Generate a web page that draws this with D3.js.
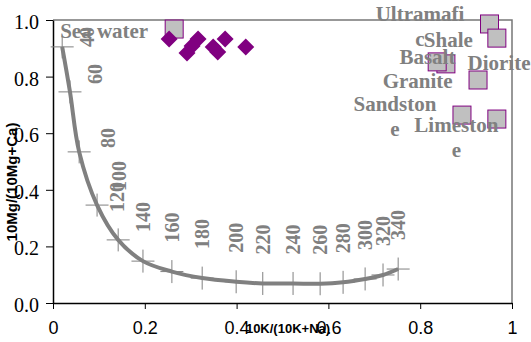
<!DOCTYPE html>
<html>
<head>
<meta charset="utf-8">
<script src="https://cdn.jsdelivr.net/npm/d3@7"></script>
<style>
  body { margin: 0; background: #fff; }
  svg { display: block; }
</style>
</head>
<body>
<div id="chart"></div>
<script>
// geothermometer curve (temperature ticks along the line)
var temps = [40, 60, 80, 100, 120, 140, 160, 180, 200, 220, 240, 260, 280, 300, 320, 340];
var curveX = [0.020, 0.037, 0.057, 0.096, 0.142, 0.196, 0.259, 0.325, 0.399, 0.457, 0.523, 0.582, 0.632, 0.680, 0.719, 0.752];
var curveY = [0.905, 0.746, 0.534, 0.346, 0.223, 0.148, 0.111, 0.088, 0.075, 0.069, 0.069, 0.068, 0.073, 0.085, 0.099, 0.120];

// sea water samples (purple diamonds)
var seaX = [0.253, 0.292, 0.303, 0.316, 0.349, 0.359, 0.375, 0.420];
var seaY = [0.933, 0.883, 0.908, 0.933, 0.905, 0.887, 0.933, 0.905];

// rock types (grey squares)
var rockNames = ["Sea water", "Ultramafic", "Shale", "Basalt", "Granite", "Diorite", "Sandstone", "Limestone"];
var rockLines = [["Sea water"], ["Ultramafi", "c"], ["Shale"], ["Basalt"], ["Granite"], ["Diorite"], ["Sandston", "e"], ["Limeston", "e"]];
var rockX = [0.264, 0.951, 0.967, 0.856, 0.837, 0.926, 0.891, 0.967];
var rockY = [0.968, 0.986, 0.936, 0.845, 0.852, 0.788, 0.664, 0.650];

var xTicks = [0, 0.2, 0.4, 0.6, 0.8, 1];
var yTicks = [0, 0.2, 0.4, 0.6, 0.8, 1.0];

var margin = {top: 20, right: 19, bottom: 39, left: 53},
    width = 531 - margin.left - margin.right,
    height = 342 - margin.top - margin.bottom;

var svg = d3.select("#chart").append("svg")
    .attr("width", 531)
    .attr("height", 342);

var g = svg.append("g")
    .attr("transform", "translate(" + margin.left + "," + margin.top + ")");

var x = d3.scaleLinear().domain([0, 1]).range([0, width]);
var y = d3.scaleLinear().domain([0, 1]).range([height, 0]);

var grey = "#808080";
var serif = "'Liberation Serif', 'Times New Roman', serif";
var sans = "'Liberation Sans', Arial, sans-serif";

// plot area border (top + right)
g.append("path")
    .attr("d", "M0,0H" + width + "V" + height)
    .attr("fill", "none")
    .attr("stroke", "#777")
    .attr("stroke-width", 1.5);

// axes
var xAxis = g.append("g")
    .attr("transform", "translate(0," + height + ")")
    .call(d3.axisBottom(x).tickValues(xTicks).tickSize(6).tickSizeOuter(0)
      .tickFormat(function(d) { return d === 0 || d === 1 ? d : d3.format(".1f")(d); }));
xAxis.select(".domain").attr("stroke", "#000").attr("stroke-width", 1.5);
xAxis.selectAll("text")
    .attr("font-family", sans)
    .attr("font-size", 18)
    .attr("fill", "#000")
    .attr("dy", "1.2em");

var yAxis = g.append("g")
    .call(d3.axisLeft(y).tickValues(yTicks).tickSize(7).tickPadding(7).tickSizeOuter(0).tickFormat(d3.format(".1f")));
yAxis.select(".domain").attr("stroke", "#000").attr("stroke-width", 1.5);
yAxis.selectAll("text")
    .attr("font-family", serif)
    .attr("font-size", 20)
    .attr("fill", "#000")
    .attr("dy", "0.42em");

// axis titles
svg.append("text")
    .attr("x", 288)
    .attr("y", 333)
    .attr("text-anchor", "middle")
    .attr("font-family", sans)
    .attr("font-weight", "bold")
    .attr("font-size", 13)
    .text("10K/(10K+Na)");

svg.append("text")
    .attr("transform", "translate(17,182) rotate(-90)")
    .attr("text-anchor", "middle")
    .attr("font-family", sans)
    .attr("font-weight", "bold")
    .attr("font-size", 15)
    .text("10Mg/(10Mg+Ca)");

// curve
var curvePts = temps.map(function(t, i) { return [curveX[i], curveY[i]]; });

g.append("path")
    .datum(curvePts)
    .attr("fill", "none")
    .attr("stroke", grey)
    .attr("stroke-width", 4)
    .attr("d", d3.line()
      .x(function(d) { return x(d[0]); })
      .y(function(d) { return y(d[1]); })
      .curve(d3.curveCatmullRom));

// cross markers
var cross = g.selectAll(".cross")
    .data(curvePts)
    .enter().append("path")
    .attr("class", "cross")
    .attr("d", function(d) {
      var cx = x(d[0]), cy = y(d[1]), s = 11.5;
      return "M" + (cx - s) + "," + cy + "H" + (cx + s) + "M" + cx + "," + (cy - s) + "V" + (cy + s);
    })
    .attr("stroke", grey)
    .attr("stroke-width", 1);

// temperature labels, pushed above the curve (steep top part moved right)
var tempOffsets = {40: [25, -10], 60: [25, -18], 80: [29, -14], 100: [22, -29], 120: [-1, -43]};
g.selectAll(".temp")
    .data(temps)
    .enter().append("text")
    .attr("class", "temp")
    .attr("transform", function(t, i) {
      var off = tempOffsets[t] || [0, -44];
      return "translate(" + (x(curveX[i]) + off[0]) + "," + (y(curveY[i]) + off[1]) + ") rotate(-90)";
    })
    .attr("text-anchor", "middle")
    .attr("dy", "0.35em")
    .attr("font-family", serif)
    .attr("font-weight", "bold")
    .attr("font-size", 20)
    .attr("fill", grey)
    .text(function(t) { return t; });

// rock squares
g.selectAll(".rock")
    .data(rockNames)
    .enter().append("rect")
    .attr("class", "rock")
    .attr("x", function(d, i) { return x(rockX[i]) - 9; })
    .attr("y", function(d, i) { return y(rockY[i]) - 9; })
    .attr("width", 18)
    .attr("height", 18)
    .attr("fill", "#c0c0c0")
    .attr("stroke", "#800080")
    .attr("stroke-width", 1);

// sea water diamonds
g.selectAll(".sea")
    .data(seaX)
    .enter().append("path")
    .attr("class", "sea")
    .attr("d", function(d, i) {
      var cx = x(seaX[i]), cy = y(seaY[i]), r = 8.5;
      return "M" + cx + "," + (cy - r) + "L" + (cx + r) + "," + cy + "L" + cx + "," + (cy + r) + "L" + (cx - r) + "," + cy + "Z";
    })
    .attr("fill", "#800080");

// rock labels (offsets from each square, in px)
var labelOffsets = {
  "Sea water": [-70, 2], "Ultramafic": [-69.5, -10], "Shale": [-48.5, 2], "Basalt": [-18.5, -7],
  "Granite": [-19.5, 19], "Diorite": [21, -17], "Sandstone": [-67, -11], "Limestone": [-40.5, 6]
};
var rockLabel = g.selectAll(".rockLabel")
    .data(rockNames)
    .enter().append("text")
    .attr("class", "rockLabel")
    .attr("text-anchor", "middle")
    .attr("font-family", serif)
    .attr("font-weight", "bold")
    .attr("font-size", 21)
    .attr("fill", grey);

rockLabel.each(function(name, i) {
  var off = labelOffsets[name];
  var lx = x(rockX[i]) + off[0], ly = y(rockY[i]) + off[1];
  var t = d3.select(this);
  rockLines[i].forEach(function(line, j) {
    t.append("tspan")
      .attr("x", lx)
      .attr("y", ly + j * 25)
      .attr("dy", "0.35em")
      .text(line);
  });
});
</script>
</body>
</html>
